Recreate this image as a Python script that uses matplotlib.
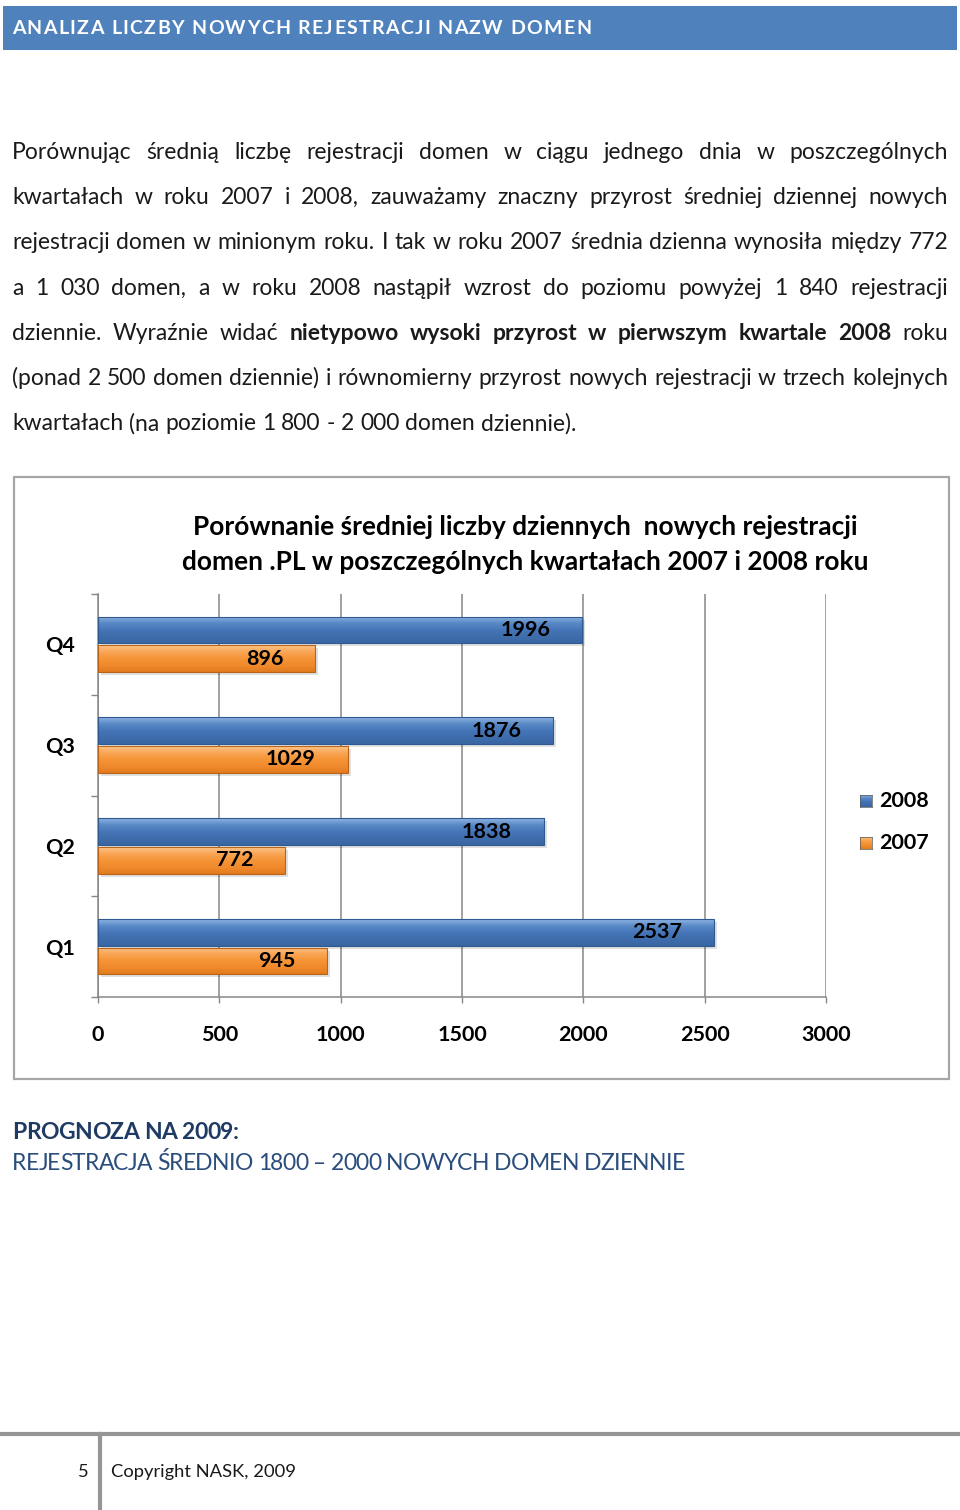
import matplotlib
matplotlib.use('Agg')
import matplotlib.pyplot as plt
import numpy as np
from matplotlib.patches import Rectangle
from matplotlib.lines import Line2D
from matplotlib.colors import LinearSegmentedColormap

# ---------------- data ----------------
categories = ['Q1', 'Q2', 'Q3', 'Q4']
values_2008 = [2537, 1838, 1876, 1996]
values_2007 = [945, 772, 1029, 896]
x_ticks = [0, 500, 1000, 1500, 2000, 2500, 3000]
series_names = ['2008', '2007']

header_title = 'ANALIZA LICZBY NOWYCH REJESTRACJI NAZW DOMEN'
chart_title = ['Porównanie średniej liczby dziennych  nowych rejestracji',
               'domen .PL w poszczególnych kwartałach 2007 i 2008 roku']
paragraph_lines = [
    [('Porównując średnią liczbę rejestracji domen w ciągu jednego dnia w poszczególnych', 'normal')],
    [('kwartałach w roku 2007 i 2008, zauważamy znaczny przyrost średniej dziennej nowych', 'normal')],
    [('rejestracji domen w minionym roku. I tak w roku 2007 średnia dzienna wynosiła między 772', 'normal')],
    [('a 1 030 domen, a w roku 2008 nastąpił wzrost do poziomu powyżej 1 840 rejestracji', 'normal')],
    [('dziennie. Wyraźnie widać', 'normal'),
     ('nietypowo wysoki przyrost w pierwszym kwartale 2008', 'bold'),
     ('roku', 'normal')],
    [('(ponad 2 500 domen dziennie) i równomierny przyrost nowych rejestracji w trzech kolejnych', 'normal')],
    [('kwartałach (na poziomie 1 800 - 2 000 domen dziennie).', 'normal')],
]
forecast_head = 'PROGNOZA NA 2009:'
forecast_text = 'REJESTRACJA ŚREDNIO 1800 – 2000 NOWYCH DOMEN DZIENNIE'
footer_page = '5'
footer_text = 'Copyright NASK, 2009'

# ---------------- setup ----------------
W, H = 960, 1510
plt.rcParams['font.family'] = ['Lato', 'DejaVu Sans']
fig = plt.figure(figsize=(W / 100, H / 100), dpi=100)
fig.patch.set_facecolor('white')
renderer = fig.canvas.get_renderer()

TEXT_COL = '#1a1a1a'


def fx(x):
    return x / W


def fy(y):
    return 1 - y / H


def text_width(s, **kw):
    t = fig.text(0, 0, s, **kw)
    w = t.get_window_extent(renderer=renderer).width
    t.remove()
    return w


def fit_size(s, target, **kw):
    w = text_width(s, fontsize=10, **kw)
    return 10 * target / w


def space_width(**kw):
    return text_width('a a', **kw) - text_width('aa', **kw)


def tracked(s, x0, y, total_w, **kw):
    sp = space_width(**kw)
    ws = [sp if c == ' ' else text_width(c, **kw) for c in s]
    extra = (total_w - sum(ws)) / (len(s) - 1)
    x = x0
    for c, w in zip(s, ws):
        if c != ' ':
            fig.text(fx(x), fy(y), c, va='baseline', ha='left', **kw)
        x += w + extra


# ---------------- header ----------------
fig.add_artist(Rectangle((fx(3), fy(50)), (957 - 3) / W, 44 / H,
                         transform=fig.transFigure, facecolor='#4F81BD',
                         edgecolor='none'))
tracked(header_title, 12, 34, 579, fontsize=14, fontweight='bold', color='white')

# ---------------- paragraph (justified) ----------------
body_fs = fit_size(paragraph_lines[6][0][0], 564, fontweight='normal')
sp_w = space_width(fontsize=body_fs)
x_left, x_right = 12, 948
base_y0, line_gap = 159, 45.2
for i, segs in enumerate(paragraph_lines):
    words = []
    for s, wt in segs:
        for w in s.split(' '):
            words.append((w, wt))
    widths = [text_width(w, fontsize=body_fs, fontweight=wt) for w, wt in words]
    last = (i == len(paragraph_lines) - 1)
    gap = sp_w if last else (x_right - x_left - sum(widths)) / (len(words) - 1)
    x = x_left
    y = base_y0 + i * line_gap
    for (w, wt), wd in zip(words, widths):
        fig.text(fx(x), fy(y), w, fontsize=body_fs, fontweight=wt, color=TEXT_COL,
                 va='baseline', ha='left')
        x += wd + gap

# ---------------- chart frame ----------------
fig.add_artist(Rectangle((fx(14), fy(1079)), (949 - 14) / W, (1079 - 477) / H,
                         transform=fig.transFigure, facecolor='none',
                         edgecolor='#A6A6A6', lw=1.6))
title_fs = fit_size(chart_title[1], 688, fontweight='bold')
fig.text(fx(525), fy(535), chart_title[0], fontsize=title_fs, fontweight='bold',
         ha='center', va='baseline', color='black')
fig.text(fx(525), fy(570), chart_title[1], fontsize=title_fs, fontweight='bold',
         ha='center', va='baseline', color='black')

# ---------------- bar chart ----------------
ax = fig.add_axes([fx(98), fy(997), (826 - 98) / W, (997 - 594) / H])
ax.set_facecolor('none')
y = np.arange(len(categories))
bh = 0.265
off = 0.142
lab_fs = fit_size('1000', 50, fontweight='bold')

bars08 = ax.barh(y + off, values_2008, height=bh, facecolor='none',
                 edgecolor='#2F5A8F', lw=0.8, zorder=3)
bars07 = ax.barh(y - off, values_2007, height=bh, facecolor='none',
                 edgecolor='#B8651A', lw=0.8, zorder=3)

blue_grad = LinearSegmentedColormap.from_list(
    'b', ['#8FB4E3', '#5A8AC6', '#4676B8', '#3F6DAC', '#3A66A2'])
orange_grad = LinearSegmentedColormap.from_list(
    'o', ['#FDC58A', '#F9A556', '#F59436', '#F08A2C', '#E27B1E'])
grad = np.linspace(0, 1, 200).reshape(-1, 1)


def paint(bars, cmap):
    for p in bars:
        x0, y0, w, h = p.get_x(), p.get_y(), p.get_width(), p.get_height()
        sh = Rectangle((x0, y0), w, h, facecolor='#000000', alpha=0.12,
                       edgecolor='none', zorder=2,
                       transform=ax.transData + matplotlib.transforms.ScaledTranslation(
                           3 / 100, -3 / 100, fig.dpi_scale_trans))
        ax.add_patch(sh)
        im = ax.imshow(grad, extent=[x0, x0 + w, y0, y0 + h], cmap=cmap,
                       aspect='auto', zorder=2.5, interpolation='bilinear')
        im.set_clip_path(p)


paint(bars08, blue_grad)
paint(bars07, orange_grad)

for b, v in zip(bars08, values_2008):
    ax.annotate(str(v), xy=(v, b.get_y() + b.get_height() / 2), xytext=(-32, 0),
                textcoords='offset pixels', ha='right', va='center',
                fontsize=lab_fs, fontweight='bold', color='black', zorder=5)
for b, v in zip(bars07, values_2007):
    ax.annotate(str(v), xy=(v, b.get_y() + b.get_height() / 2), xytext=(-32, 0),
                textcoords='offset pixels', ha='right', va='center',
                fontsize=lab_fs, fontweight='bold', color='black', zorder=5)

ax.set_xlim(0, 3000)
ax.set_ylim(-0.5, len(categories) - 0.5)
ax.set_xticks(x_ticks)
ax.set_xticklabels([str(t) for t in x_ticks], fontsize=lab_fs, fontweight='bold')
ax.set_yticks(y)
ax.set_yticklabels(categories, fontsize=lab_fs, fontweight='bold')
ax.set_yticks(np.arange(-0.5, len(categories)), minor=True)
ax.tick_params(axis='y', which='major', length=0, pad=16.5)
ax.tick_params(axis='y', which='minor', length=5, width=1, color='#868686')
ax.tick_params(axis='x', which='major', length=4.5, width=1, color='#868686', pad=16)
ax.xaxis.grid(True, color='#868686', lw=1.1, zorder=0)
ax.set_axisbelow(True)
for s in ['top', 'right']:
    ax.spines[s].set_visible(False)
for s in ['left', 'bottom']:
    ax.spines[s].set_color('#868686')
    ax.spines[s].set_linewidth(1.1)

# legend (manual)
leg_items = [(series_names[0], blue_grad, 801), (series_names[1], orange_grad, 843)]
for name, cmap, yy in leg_items:
    lax = fig.add_axes([fx(860), fy(yy + 6), 12 / W, 12 / H])
    lax.imshow(grad, cmap=cmap, aspect='auto', extent=[0, 1, 0, 1])
    lax.set_xticks([])
    lax.set_yticks([])
    for s in lax.spines.values():
        s.set_color('#555555')
        s.set_linewidth(0.5)
    fig.text(fx(879), fy(yy), name, fontsize=lab_fs, fontweight='bold',
             ha='left', va='center', color='black')

# ---------------- forecast ----------------
fc_fs = body_fs
tracked(forecast_head, 12, 1139, 227, fontsize=fc_fs, fontweight='bold', color='#1F3B63')
tracked(forecast_text, 12, 1170, 673, fontsize=fc_fs, color='#2A4D7C')

# ---------------- footer ----------------
foot_fs = fit_size(footer_text, 184)
fig.add_artist(Line2D([0, 1], [fy(1434), fy(1434)], transform=fig.transFigure,
                      color='#959595', lw=3))
fig.add_artist(Line2D([fx(100), fx(100)], [fy(1434), fy(1508)],
                      transform=fig.transFigure, color='#959595', lw=3))
fig.text(fx(89), fy(1477), footer_page, fontsize=foot_fs, ha='right', va='baseline',
         color=TEXT_COL)
fig.text(fx(111), fy(1477), footer_text, fontsize=foot_fs, ha='left', va='baseline',
         color=TEXT_COL)

fig.savefig('out.png', dpi=100, facecolor='white')
